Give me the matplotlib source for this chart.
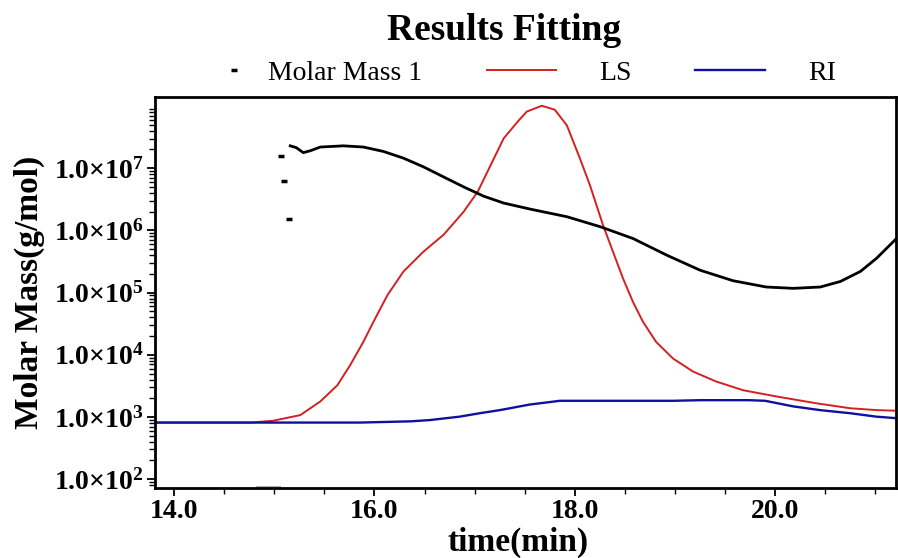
import matplotlib
matplotlib.use('Agg')
import matplotlib.pyplot as plt
import numpy as np
from matplotlib.ticker import FixedLocator, FixedFormatter, LogLocator, NullFormatter, MultipleLocator
from matplotlib.lines import Line2D
from matplotlib.legend_handler import HandlerLine2D

plt.rcParams['font.family'] = ['Liberation Serif', 'DejaVu Serif']
plt.rcParams['mathtext.fontset'] = 'custom'
plt.rcParams['mathtext.rm'] = 'Liberation Serif:bold'
plt.rcParams['mathtext.bf'] = 'Liberation Serif:bold'
plt.rcParams['mathtext.default'] = 'bf'

# ---- data ----
ls_time = [13.81, 14.77, 14.99, 15.26, 15.46, 15.63, 15.76, 15.89, 15.99, 16.13, 16.29, 16.49,
           16.69, 16.89, 17.03, 17.16, 17.29, 17.43, 17.52, 17.67, 17.80, 17.92, 18.05, 18.15,
           18.28, 18.38, 18.48, 18.58, 18.68, 18.81, 18.98, 19.18, 19.41, 19.68, 20.01, 20.41,
           20.75, 21.01, 21.21]
ls_value = [813, 813, 871, 1072, 1778, 3236, 6918, 16218, 33884, 91201, 218776, 457088,
            851138, 1.995e6, 4.17e6, 1.122e7, 3.02e7, 5.62e7, 8.13e7, 1.01e8, 8.71e7, 4.90e7, 1.445e7, 5.37e6,
            1.23e6, 4.57e5, 1.70e5, 7.08e4, 3.39e4, 1.62e4, 8.7e3, 5.37e3, 3.72e3, 2.69e3, 2.14e3, 1.66e3,
            1.38e3, 1.29e3, 1.26e3]

ri_time = [13.81, 15.86, 16.36, 16.55, 16.85, 17.05, 17.25, 17.55, 17.85, 18.98, 19.25, 19.74,
           19.90, 20.18, 20.45, 20.75, 21.01, 21.21]
ri_value = [813, 813, 851, 891, 1012, 1148, 1288, 1585, 1820, 1820, 1862, 1862,
            1820, 1479, 1288, 1148, 1012, 955]

mm_time = [15.16, 15.22, 15.29, 15.36, 15.46, 15.69, 15.89, 16.09, 16.29, 16.49, 16.69, 16.89,
           17.09, 17.29, 17.56, 17.92, 18.25, 18.58, 18.92, 19.25, 19.58, 19.91, 20.18, 20.45,
           20.65, 20.85, 21.01, 21.21]
mm_value = [2.29e7, 2.14e7, 1.78e7, 1.91e7, 2.19e7, 2.29e7, 2.19e7, 1.86e7, 1.45e7, 1.05e7, 7.24e6, 5.01e6,
            3.55e6, 2.75e6, 2.19e6, 1.66e6, 1.15e6, 7.41e5, 3.98e5, 2.29e5, 1.55e5, 1.23e5, 1.17e5, 1.23e5,
            1.51e5, 2.19e5, 3.55e5, 7.41e5]
mm_out_time = [15.07, 15.10, 15.15]
mm_out_value = [1.58e7, 6.3e6, 1.55e6]

frag_time = [14.83, 15.06]
frag_value = [76, 76]

ytick_values = [1e2, 1e3, 1e4, 1e5, 1e6, 1e7]
ytick_labels = ['1.0×10$^{2}$', '1.0×10$^{3}$', '1.0×10$^{4}$', '1.0×10$^{5}$', '1.0×10$^{6}$', '1.0×10$^{7}$']
xtick_values = [14.0, 16.0, 18.0, 20.0]
xtick_labels = ['14.0', '16.0', '18.0', '20.0']


class RightMarkerHandler(HandlerLine2D):
    """Place the single marker just right of the handle area."""
    def get_xdata(self, legend, xdescent, ydescent, width, height, fontsize):
        p = -xdescent + width + 0.3 * fontsize
        xdata = np.array([p, p], float)
        return xdata, np.array([p])


# ---- figure ----
fig = plt.figure(figsize=(8.98, 5.58), dpi=100)
ax = fig.add_axes([155/898, 1 - 488/558, 741/898, 391/558])

ax.plot(frag_time, frag_value, color='#b0b0b0', lw=1.5)
ax.plot(ls_time, ls_value, color='#d42020', lw=1.4)
ax.plot(ri_time, ri_value, color='#1010a0', lw=1.7)
ax.plot(mm_time, mm_value, color='black', lw=2.0)
ax.plot(mm_out_time, mm_out_value, ls='none', marker='_', ms=5, mew=2.5, color='black')

ax.set_yscale('log')
ax.set_xlim(13.81, 21.205)
ax.set_ylim(10**1.858, 10**8.145)

ax.yaxis.set_major_locator(FixedLocator(ytick_values))
ax.yaxis.set_major_formatter(FixedFormatter(ytick_labels))
ax.yaxis.set_minor_locator(LogLocator(base=10, subs=np.arange(2, 10), numticks=20))
ax.yaxis.set_minor_formatter(NullFormatter())
ax.xaxis.set_major_locator(FixedLocator(xtick_values))
ax.xaxis.set_major_formatter(FixedFormatter(xtick_labels))
ax.xaxis.set_minor_locator(MultipleLocator(0.5))

ax.tick_params(axis='both', which='major', direction='out', length=6, width=1.3,
               labelsize=20, pad=2)
ax.tick_params(axis='both', which='minor', direction='out', length=4, width=1.0)
for lab in ax.get_xticklabels() + ax.get_yticklabels():
    lab.set_fontweight('bold')

for sp in ax.spines.values():
    sp.set_linewidth(2.0)

ax.set_xlabel('time(min)', fontsize=24, fontweight='bold')
ax.set_ylabel('Molar Mass(g/mol)', fontsize=24, fontweight='bold')
ax.yaxis.set_label_coords(-0.149, 0.5)
ax.xaxis.set_label_coords(0.49, -0.1)

fig.text(504/898, 1 - 40/558, 'Results Fitting', fontsize=27, fontweight='bold',
         ha='center', va='baseline')

mm_handle = Line2D([], [], ls='none', marker='_', ms=5, mew=2.5, color='black')
handles = [mm_handle,
           Line2D([], [], color='#d42020', lw=1.4),
           Line2D([], [], color='#1010a0', lw=1.7)]
fig.legend(handles, ['Molar Mass 1', 'LS', 'RI'], loc='center left', ncol=3,
           bbox_to_anchor=(156/898, 1 - 73/558), frameon=False, fontsize=20,
           handlelength=2.5, handletextpad=1.55, columnspacing=2.3, borderpad=0,
           borderaxespad=0,
           handler_map={mm_handle: RightMarkerHandler(numpoints=1)})

fig.savefig('out.png', dpi=100)
